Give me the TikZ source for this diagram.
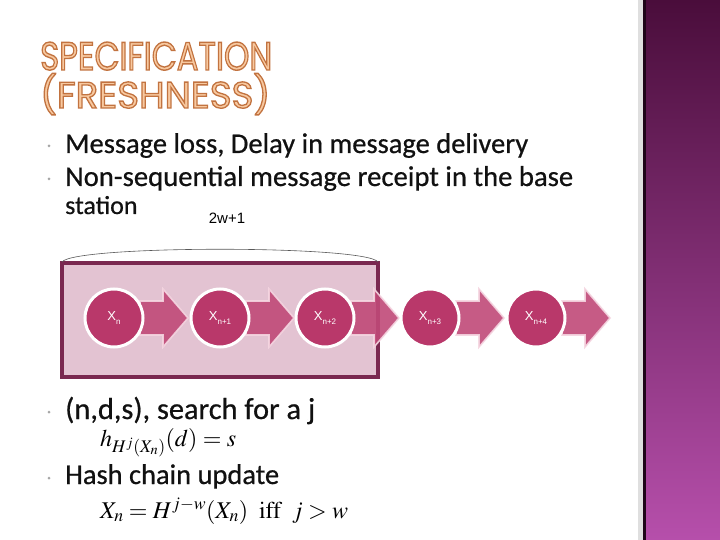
\documentclass[tikz,border=0pt]{standalone}
\usepackage[no-math]{fontspec}
\usepackage{mathptmx}
\setmainfont[FakeBold=0.6]{Carlito}
\newfontfamily\titlefont{Poppins}
\newfontfamily\arialfont{Liberation Sans}
\usetikzlibrary{calc}
\definecolor{boxfill}{HTML}{E3C3D2}
\definecolor{boxline}{HTML}{7A2850}
\definecolor{circfill}{HTML}{B9386A}
\definecolor{arrfill}{HTML}{C04A78}
\definecolor{arrline}{HTML}{F5D6E1}
\definecolor{titlefill}{HTML}{F8C9A0}
\definecolor{paneltop}{HTML}{4A0D3B}
\definecolor{panelbot}{HTML}{B64FAB}
\definecolor{bodytext}{HTML}{111111}
\tikzset{
  bodyline/.style={anchor=base west, inner sep=0pt, text=bodytext, font=\fontsize{26}{30}\selectfont},
  bulletdot/.style={circle, fill=gray!70, inner sep=0pt, minimum size=3pt},
  chaincirc/.style={circle, fill=circfill, draw=white, line width=3pt, minimum size=58pt, inner sep=0pt, text=white, font=\arialfont\fontsize{13}{13}\selectfont},
  blockarr/.style={fill=arrfill, draw=arrline, line width=1.6pt, opacity=0.9, line join=miter},
  mathline/.style={anchor=base west, inner sep=0pt, text=black, font=\fontsize{24}{28}\selectfont},
}
\newcommand{\chainarrow}[1]{%
  \path[blockarr] (#1+26,301) -- (#1+49,301) -- (#1+49,289) -- (#1+74,318) -- (#1+49,347) -- (#1+49,335) -- (#1+26,335) -- cycle;}
\newcommand{\xlab}[1]{X\raisebox{-3.5pt}{\fontsize{8}{8}\selectfont #1}}
\newcommand{\outl}[1]{{\color{titlefill}\special{pdf:literal direct 2 Tr 0.35 w 0.76 0.45 0.25 RG}#1\special{pdf:literal direct 0 Tr}}}
\begin{document}
\begin{tikzpicture}[x=1pt,y=-1pt]
\useasboundingbox (0,0) rectangle (720,540);
\fill[white] (0,0) rectangle (720,540);
% right panel
\shade[top color=paneltop, bottom color=panelbot] (643,0) rectangle (720,540);
\fill[gray!25] (638,0) rectangle (643,540);
\fill[black!60!paneltop] (643,0) rectangle (646,540);
% title
\node[anchor=base west, inner sep=0pt] (title1) at (40,70) {\resizebox{232pt}{28pt}{\titlefont\outl{SPECIFICATION}}};
\node[anchor=base west, inner sep=0pt] (title2) at (40,108) {\resizebox{230pt}{!}{\titlefont\outl{(FRESHNESS)}}};
% bullets
\node[bulletdot] (b1) at (49,146) {};
\node[bulletdot] (b2) at (49,179) {};
\node[bulletdot] (b3) at (49,412) {};
\node[bulletdot] (b4) at (49,478) {};
\node[bodyline] (t1) at (65,153) {\resizebox{463pt}{!}{Message loss, Delay in message delivery}};
\node[bodyline] (t2) at (65,186) {\resizebox{508pt}{!}{Non-sequential message receipt in the base}};
\node[bodyline] (t3) at (65,214) {station};
\node[bodyline] (t4) at (65,419) {\resizebox{250pt}{!}{(n,d,s), search for a j}};
\node[bodyline] (t5) at (65,484) {\resizebox{214pt}{!}{Hash chain update}};
% window label
\node[anchor=base, inner sep=0pt, font=\arialfont\fontsize{15}{15}\selectfont] (lab) at (227,224) {2w+1};
% box and brace arc
\draw[fill=boxfill, draw=boxline, line width=4pt] (62,263) rectangle (378,377);
\coordinate (arcL) at (62,262);
\coordinate (arcR) at (378,262);
\draw[draw=black!65, line width=0.6pt] (arcL) .. controls (74,245) and (366,245) .. (arcR);
% arrows
\chainarrow{114}
\chainarrow{220}
\chainarrow{325}
\chainarrow{430}
\chainarrow{536}
% circles
\node[chaincirc] (c0) at (114,318) {\xlab{n}};
\node[chaincirc] (c1) at (220,318) {\xlab{n+1}};
\node[chaincirc] (c2) at (325,318) {\xlab{n+2}};
\node[chaincirc] (c3) at (430,318) {\xlab{n+3}};
\node[chaincirc] (c4) at (536,318) {\xlab{n+4}};
% formulas
\node[mathline] (f1) at (100,446) {$h_{H^j(X_n)}(d) = s$};
\node[mathline] (f2) at (100,518) {$X_n = H^{j-w}(X_n)\ \ \mathrm{iff}\ \ j > w$};
\end{tikzpicture}
\end{document}
